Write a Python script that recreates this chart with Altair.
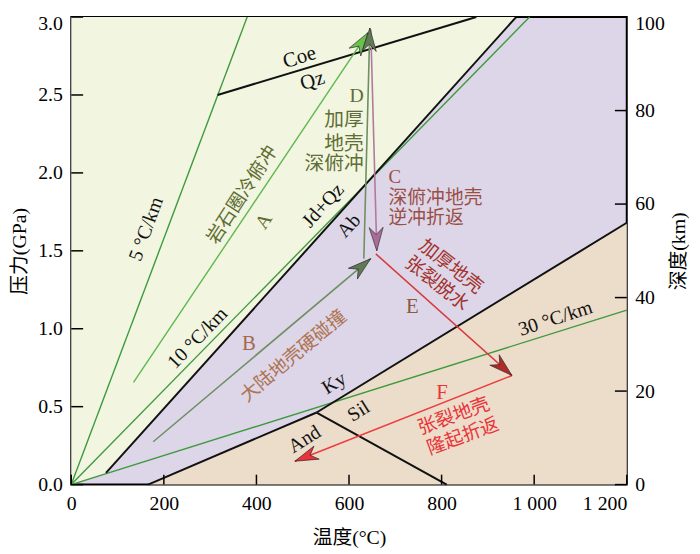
import math
import altair as alt
import pandas as pd

W, H = 562, 473
FONT = "Liberation Serif, Noto Sans CJK SC"

# ---------------- data ----------------
# phase-field boundaries (T in °C, P in GPa)
green_T = [0, 75, 961]
green_P = [0.0, 0.075, 3.0]
tan_T = [166, 530, 1200]
tan_P = [0.0, 0.4625, 1.68]

# reaction lines / geotherms
geo5_T, geo5_P = [0, 380], [0.0, 3.0]
geo10_T, geo10_P = [0, 990], [0.0, 3.0]
geo30_T, geo30_P = [0, 1200], [0.0, 1.12]
jd_T, jd_P = [75, 961], [0.075, 3.0]
coe_T, coe_P = [316, 875], [2.5, 3.0]
kysil_T, kysil_P = [530, 1200], [0.4625, 1.68]
andky_T, andky_P = [166, 530], [0.0, 0.4625]
siland_T, siland_P = [530, 811], [0.4625, 0.0]

# P-T paths (arrows)
pathA_T, pathA_P = [134.5, 641], [0.656, 2.90]
pathB_T, pathB_P = [177, 647], [0.275, 1.45]
pathD_T, pathD_P = [632, 645], [1.45, 2.93]
pathC_T, pathC_P = [647, 660], [2.92, 1.50]
pathE_T, pathE_P = [658, 952], [1.48, 0.70]
pathF_T, pathF_P = [952, 483], [0.70, 0.15]

x_ticks = [0, 200, 400, 600, 800, 1000, 1200]
p_ticks = [0.0, 0.5, 1.0, 1.5, 2.0, 2.5, 3.0]
km_ticks = [0, 20, 40, 60, 80, 100]

# ---------------- tables ----------------
GEO = "#3d9a3d"
lines = [
    ("geo5", geo5_T, geo5_P, GEO, 1.4),
    ("geo10", geo10_T, geo10_P, GEO, 1.4),
    ("geo30", geo30_T, geo30_P, GEO, 1.4),
    ("jd", jd_T, jd_P, "#111111", 2.0),
    ("coe", coe_T, coe_P, "#111111", 2.0),
    ("kysil", kysil_T, kysil_P, "#111111", 2.0),
    ("andky", andky_T, andky_P, "#111111", 2.0),
    ("siland", siland_T, siland_P, "#111111", 2.0),
    ("pA", pathA_T, pathA_P, "#5cb84c", 1.4),
    ("pB", pathB_T, pathB_P, "#6f8f62", 1.6),
    ("pD", pathD_T, pathD_P, "#6f8f62", 1.6),
    ("pC", pathC_T, pathC_P, "#b07aa0", 1.6),
    ("pE", pathE_T, pathE_P, "#d63a3a", 1.6),
    ("pF", pathF_T, pathF_P, "#ee3b40", 1.6),
]
rows = []
for name, ts, ps, col, sw in lines:
    for i, (t, p) in enumerate(zip(ts, ps)):
        rows.append({"name": name, "i": i, "T": t, "P": p, "color": col, "sw": sw})
line_df = pd.DataFrame(rows)

heads = [
    (pathA_T, pathA_P, "#6cc04e"),
    (pathB_T, pathB_P, "#5f7a55"),
    (pathD_T, pathD_P, "#5f7a55"),
    (pathC_T, pathC_P, "#a86c98"),
    (pathE_T, pathE_P, "#b02a2a"),
    (pathF_T, pathF_P, "#e8333a"),
]
hrows = []
for ts, ps, col in heads:
    dx = (ts[1] - ts[0]) * W / 1200.0
    dy = (ps[1] - ps[0]) * H / 3.0
    ang = math.degrees(math.atan2(dx, dy)) % 360
    hrows.append({"T": ts[1], "P": ps[1], "angle": ang, "color": col})
head_df = pd.DataFrame(hrows)

OLIVE = "#5e6e34"
BROWN = "#a26a4c"
DRED = "#a3322d"
RED = "#ea3338"
K = "#111111"
center_labels = [
    ("Coe", 493, 2.74, 343, K, 21),
    ("Qz", 521, 2.59, 343, K, 21),
    ("5 °C/km", 162, 1.64, 290, K, 20),
    ("岩石圈冷俯冲", 369, 1.86, 303, OLIVE, 19),
    ("A", 416, 1.69, 303, OLIVE, 20),
    ("Jd+Qz", 544, 1.79, 312, K, 20),
    ("Ab", 600, 1.66, 312, K, 20),
    ("10 °C/km", 273, 0.94, 314, K, 20),
    ("B", 384, 0.90, 0, BROWN, 21),
    ("大陆地壳硬碰撞", 480, 0.825, 320, "#ad7352", 19),
    ("加厚地壳", 820, 1.40, 38, DRED, 19),
    ("张裂脱水", 790, 1.29, 38, DRED, 19),
    ("E", 737, 1.14, 0, "#8b5a3c", 21),
    ("30 °C/km", 1046, 1.065, 342, K, 20),
    ("Ky", 568, 0.65, 328, K, 20),
    ("Sil", 621, 0.47, 328, K, 20),
    ("And", 504, 0.29, 328, K, 20),
    ("F", 801, 0.59, 0, RED, 21),
    ("张裂地壳", 826, 0.44, 340, RED, 19),
    ("隆起折返", 846, 0.31, 340, RED, 19),
]
right_labels = [
    ("D", 632, 2.494, 0, OLIVE, 20),
    ("加厚", 632, 2.3375, 0, OLIVE, 20),
    ("地壳", 632, 2.1875, 0, OLIVE, 20),
    ("深俯冲", 632, 2.056, 0, OLIVE, 20),
]
left_labels = [
    ("C", 685.5, 1.975, 0, "#9a4e44", 19),
    ("深俯冲地壳", 685.5, 1.8375, 0, "#9a4e44", 19),
    ("逆冲折返", 685.5, 1.71, 0, "#9a4e44", 19),
]
cols = ["txt", "T", "P", "angle", "color", "size"]

xs = alt.Scale(domain=[0, 1200], nice=False, zero=False)
ys = alt.Scale(domain=[0, 3], nice=False, zero=False)

X_AXIS = alt.Axis(
    values=x_ticks, format=",d", labelExpr="replace(datum.label, ',', ' ')",
    ticks=False, tickSize=0, domain=False, grid=False, labelPadding=9, labelFlush=False,
    labelAlign={"condition": {"test": "datum.value == 1200", "value": "right"}, "value": "center"},
    labelFont=FONT, labelFontSize=20, labelColor="black",
    title="温度(°C)", titleFont=FONT, titleFontSize=20, titleFontWeight="normal",
    titleColor="black", titlePadding=15)
Y_AXIS = alt.Axis(
    values=p_ticks, format=".1f", ticks=False, tickSize=0, domain=False, grid=False,
    labelPadding=9, labelFlush=False,
    labelOffset={"condition": {"test": "datum.value == 3", "value": 7}, "value": 0},
    labelFont=FONT, labelFontSize=20, labelColor="black",
    title="压力(GPa)", titleFont=FONT, titleFontSize=20, titleFontWeight="normal",
    titleColor="black", titlePadding=8)


def X(f="T"):
    return alt.X(f"{f}:Q", scale=xs, axis=X_AXIS)


def Y(f="P"):
    return alt.Y(f"{f}:Q", scale=ys, axis=Y_AXIS)


green_df = pd.DataFrame({"T": green_T, "P": green_P, "top": [3.0] * len(green_T)})
tan_df = pd.DataFrame({"T": tan_T, "P": tan_P, "bot": [0.0] * len(tan_T)})

green = alt.Chart(green_df).mark_area(color="#f2f5e0", opacity=1).encode(
    x=X(), y=Y(), y2="top:Q")
tan = alt.Chart(tan_df).mark_area(color="#ecdcca", opacity=1).encode(
    x=X(), y=Y(), y2="bot:Q")

line_layer = alt.Chart(line_df).mark_line().encode(
    x=X(), y=Y(),
    color=alt.Color("color:N", scale=None),
    strokeWidth=alt.StrokeWidth("sw:Q", scale=None),
    detail="name:N",
    order="i:O",
)

ARROW = "M0,0 L0.6,2 L0,1.4 L-0.6,2 Z"
head_layer = alt.Chart(head_df).mark_point(
    shape=ARROW, filled=True, size=560, opacity=1, stroke="#222222", strokeWidth=0.6
).encode(
    x=X(), y=Y(),
    fill=alt.Fill("color:N", scale=None),
    angle=alt.Angle("angle:Q", scale=None),
)


def text_layer(data, align):
    df = pd.DataFrame(data, columns=cols)
    return alt.Chart(df).mark_text(align=align, baseline="middle", font=FONT).encode(
        x=X(), y=Y(),
        text="txt:N",
        color=alt.Color("color:N", scale=None),
        angle=alt.Angle("angle:Q", scale=None),
        size=alt.Size("size:Q", scale=None),
    )


xt_df = pd.DataFrame({"T": x_ticks})
pt_df = pd.DataFrame({"P": p_ticks})
km_df = pd.DataFrame({"v": km_ticks})

bottom_ticks = alt.Chart(xt_df).mark_rule(color="black", strokeWidth=1.5).encode(
    x=X(), y=alt.value(H), y2=alt.value(H - 10),
)
left_ticks = alt.Chart(pt_df).mark_rule(color="black", strokeWidth=1.5).encode(
    y=Y(), x=alt.value(0), x2=alt.value(12),
)
right_ticks = alt.Chart(km_df).mark_rule(color="black", strokeWidth=1.5).encode(
    y=alt.Y("v:Q", scale=alt.Scale(domain=[0, 100], nice=False), axis=alt.Axis(
        orient="right", values=km_ticks, format="d", ticks=False, tickSize=0, domain=False,
        grid=False, labelPadding=8, labelFlush=False,
        labelOffset={"condition": {"test": "datum.value == 100", "value": 7}, "value": 0},
        labelFont=FONT, labelFontSize=20, labelColor="black",
        title="深度(km)", titleFont=FONT, titleFontSize=20, titleFontWeight="normal",
        titleColor="black", titleAngle=270, titleBaseline="top", titlePadding=4)),
    x=alt.value(W), x2=alt.value(W - 12),
)

inner = alt.layer(
    green, tan, line_layer, head_layer,
    text_layer(center_labels, "center"),
    text_layer(right_labels, "right"),
    text_layer(left_labels, "left"),
    bottom_ticks, left_ticks,
)

chart = alt.layer(inner, right_ticks).resolve_scale(y="independent").properties(
    width=W, height=H,
    autosize=alt.AutoSizeParams(type="none"),
    padding={"left": 64, "top": 6, "right": 66, "bottom": 62},
    background="white",
).configure_view(
    fill="#ddd6e8", stroke="black", strokeWidth=2
)

chart.save("out.html", embed_options={"renderer": "svg", "actions": False})
